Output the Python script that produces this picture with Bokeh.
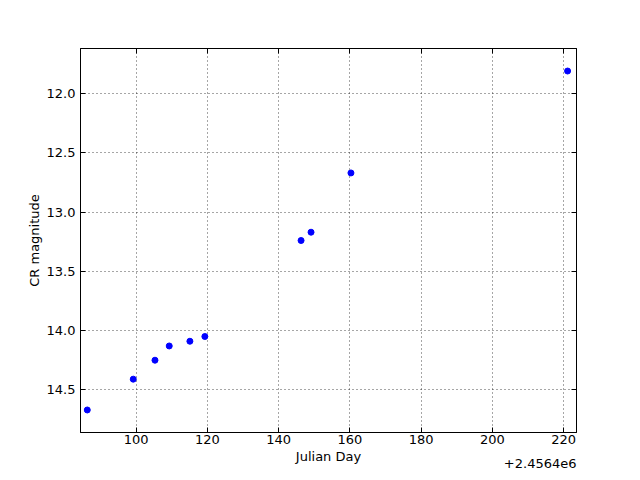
from bokeh.plotting import figure
from bokeh.models import Range1d, FixedTicker, LinearAxis, Label, NumeralTickFormatter, CustomJSTickFormatter
from bokeh.embed import file_html
from bokeh.resources import INLINE

# Julian Day offsets from 2456400
jd_offset_text = "+2.4564e6"
julian_day = [86.3, 99.2, 105.3, 109.3, 115.1, 119.3, 146.3, 149.1, 160.3, 221.1]
cr_mag = [14.67, 14.41, 14.25, 14.13, 14.09, 14.05, 13.24, 13.17, 12.67, 11.81]
x_ticks = [100, 120, 140, 160, 180, 200, 220]
y_ticks = [12.0, 12.5, 13.0, 13.5, 14.0, 14.5]

FONT = "DejaVu Sans"
FS = "13px"

p = figure(width=640, height=480, output_backend="svg", toolbar_location=None,
           x_range=Range1d(84.4, 223.6), y_range=Range1d(14.86, 11.62),
           min_border_left=80, min_border_right=64, min_border_top=48, min_border_bottom=48,
           x_axis_label="Julian Day", y_axis_label="CR magnitude")
p.outline_line_color = "black"
p.outline_line_width = 1
p.background_fill_color = "white"
p.border_fill_color = "white"

p.scatter(julian_day, cr_mag, size=6, fill_color="#0000ff", line_color="#0000ff")

for ax in (p.xaxis[0], p.yaxis[0]):
    ax.major_tick_in = 5
    ax.major_tick_out = 0
    ax.minor_tick_in = 0
    ax.minor_tick_out = 0
    ax.axis_line_color = "black"
    ax.major_label_text_font = FONT
    ax.major_label_text_font_size = FS
    ax.major_label_text_color = "black"
    ax.axis_label_text_font = FONT
    ax.axis_label_text_font_size = FS
    ax.axis_label_text_font_style = "normal"
    ax.axis_label_text_color = "black"

p.xaxis[0].ticker = FixedTicker(ticks=x_ticks)
p.yaxis[0].ticker = FixedTicker(ticks=y_ticks)
p.yaxis[0].formatter = NumeralTickFormatter(format="0.0")
p.xaxis[0].major_label_standoff = 2
p.xaxis[0].axis_label_standoff = 2
p.yaxis[0].major_label_standoff = 5
p.yaxis[0].axis_label_standoff = 2

for g in (p.xgrid[0], p.ygrid[0]):
    g.grid_line_color = "black"
    g.grid_line_alpha = 0.7
    g.grid_line_dash = "1 3"
    g.grid_line_width = 1
p.xgrid[0].ticker = FixedTicker(ticks=x_ticks)
p.ygrid[0].ticker = FixedTicker(ticks=y_ticks)

blank = CustomJSTickFormatter(code="return '';")
top = LinearAxis(ticker=FixedTicker(ticks=x_ticks), formatter=blank,
                 major_tick_in=5, major_tick_out=0, minor_tick_in=0, minor_tick_out=0,
                 axis_line_color="black", major_label_standoff=0)
right = LinearAxis(ticker=FixedTicker(ticks=y_ticks), formatter=blank,
                   major_tick_in=5, major_tick_out=0, minor_tick_in=0, minor_tick_out=0,
                   axis_line_color="black", major_label_standoff=0)
p.add_layout(top, "above")
p.add_layout(right, "right")

off = Label(x=496, y=12, x_units="screen", y_units="screen", text=jd_offset_text,
            text_align="right", text_baseline="middle",
            text_font=FONT, text_font_size=FS, text_color="black")
p.add_layout(off, "below")

open("out.html", "w").write(file_html(p, INLINE))
